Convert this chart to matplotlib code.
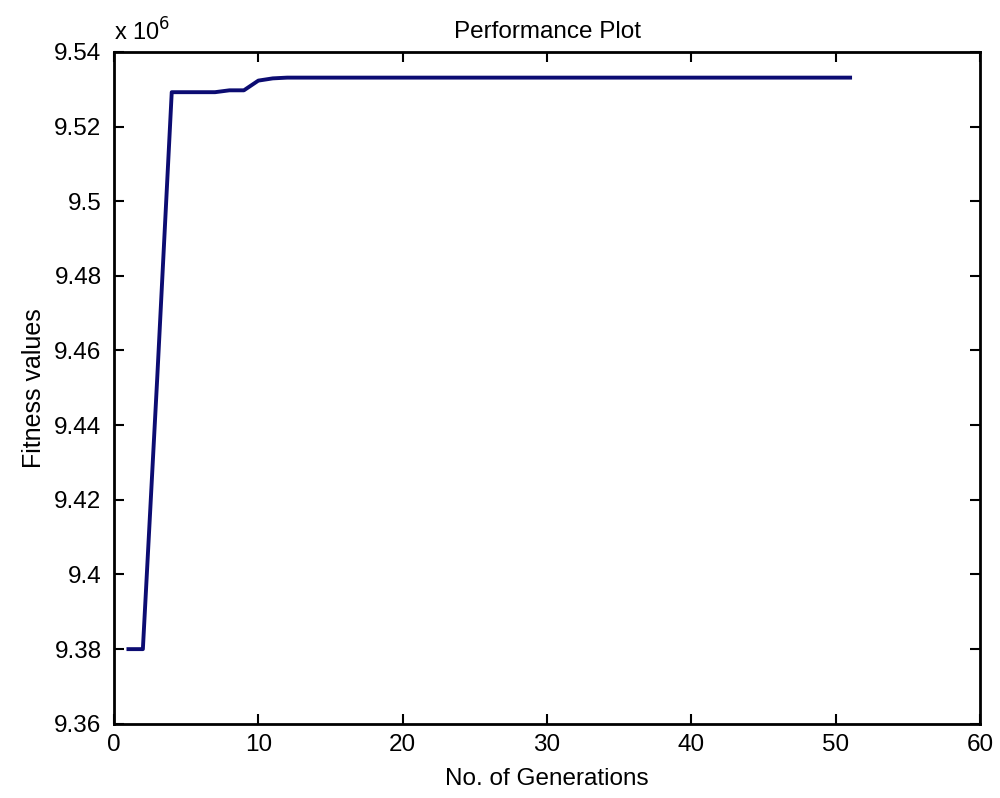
import numpy as np
import matplotlib
matplotlib.use("Agg")
import matplotlib.pyplot as plt
from matplotlib.ticker import FuncFormatter

plt.rcParams['font.family'] = ['Liberation Sans', 'DejaVu Sans']

# Generations and best fitness (in units of 1e6)
generations = [1, 2, 3, 4, 5, 6, 7, 8, 9, 10, 11, 12, 51]
fitness = [9.380, 9.380, 9.453, 9.5292, 9.5292, 9.5292, 9.5292, 9.5297, 9.5297,
           9.5323, 9.5329, 9.5331, 9.5331]
fitness = np.array(fitness) * 1e6

xticks = np.arange(0, 61, 10)
yticks = np.arange(9.36, 9.541, 0.02) * 1e6

fig = plt.figure(figsize=(10, 7.98), dpi=100)
ax = fig.add_axes([0.114, 0.093, 0.866, 0.842])

ax.plot(generations, fitness, color='#0c0c72', linewidth=2.8)

ax.set_xlim(0, 60)
ax.set_ylim(9.36e6, 9.54e6)
ax.set_xticks(xticks)
ax.set_yticks(yticks)
ax.yaxis.set_major_formatter(FuncFormatter(lambda v, p: "%g" % round(v / 1e6, 4)))

# matlab style box with inward ticks
ax.tick_params(direction='in', length=7, width=1.5, top=True, right=True,
               labelsize=17.5)
ax.tick_params(axis='y', pad=9)
ax.tick_params(axis='x', pad=7)
for s in ax.spines.values():
    s.set_linewidth(2)

ax.set_title("Performance Plot", fontsize=17.5, pad=10)
ax.set_xlabel("No. of Generations", fontsize=17.5, labelpad=9)
ax.set_ylabel("Fitness values", fontsize=18, labelpad=6)

# exponent text
ax.text(0, 1.01, r"x 10$^{6}$", transform=ax.transAxes, fontsize=17,
        ha='left', va='bottom')

fig.savefig("out.png", dpi=100)
